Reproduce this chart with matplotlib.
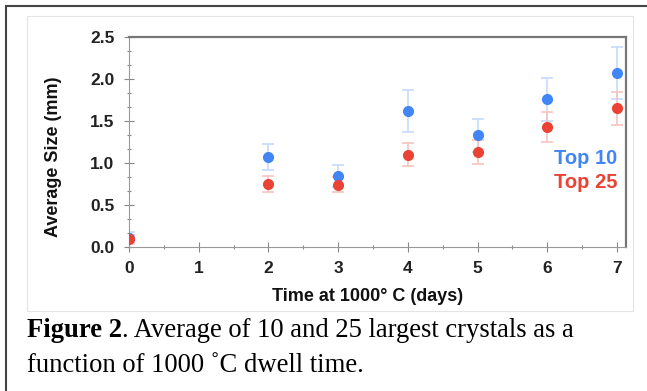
import matplotlib.pyplot as plt
from matplotlib.ticker import MultipleLocator
from matplotlib.patches import Rectangle

plt.rcParams['font.family'] = ['Liberation Sans', 'DejaVu Sans']

# data
days = [0, 2, 3, 4, 5, 6, 7]
top10 = [0.10, 1.07, 0.84, 1.62, 1.33, 1.76, 2.07]
top10_err = [0.07, 0.16, 0.13, 0.25, 0.20, 0.26, 0.31]
top25 = [0.09, 0.75, 0.74, 1.10, 1.13, 1.43, 1.65]
top25_err = [0.05, 0.10, 0.09, 0.135, 0.14, 0.18, 0.20]

BLUE = '#4285f4'
RED = '#ea4335'
W, H = 647, 391

fig = plt.figure(figsize=(W / 100, H / 100), dpi=100)
fig.patch.set_facecolor('white')

# outer document frame and light chart border
fig.add_artist(Rectangle((6 / W, -0.1), 1.2, (H - 6) / H + 0.1, transform=fig.transFigure,
                         fill=False, edgecolor='#444444', linewidth=1.5))
fig.add_artist(Rectangle((27 / W, 1 - 311 / H), (632.5 - 27) / W, (311 - 16) / H,
                         transform=fig.transFigure, fill=False, edgecolor='#e4e4e4', linewidth=0.8))

ax = fig.add_axes([129 / W, 1 - 246.7 / H, (626 - 129) / W, (246.7 - 37.3) / H])

ax.errorbar(days, top10, yerr=top10_err, fmt='none', ecolor='#c6dafc', elinewidth=1.2,
            capsize=4, capthick=1.2, zorder=2)
ax.errorbar(days, top25, yerr=top25_err, fmt='none', ecolor='#f6c4bf', elinewidth=1.2,
            capsize=4, capthick=1.2, zorder=2)
ax.plot(days, top10, 'o', color=BLUE, markersize=7, zorder=3)
ax.plot(days, top25, 'o', color=RED, markersize=7, zorder=4)

ax.set_xlim(0, 7.13)
ax.set_ylim(0, 2.5)
ax.xaxis.set_major_locator(MultipleLocator(1))
ax.xaxis.set_minor_locator(MultipleLocator(0.5))
ax.yaxis.set_major_locator(MultipleLocator(0.5))
ax.yaxis.set_minor_locator(MultipleLocator(0.5 / 3))
ax.yaxis.set_major_formatter(plt.FormatStrFormatter('%.1f'))

ax.tick_params(which='major', direction='inout', length=7, width=0.8, color='#888888',
               labelsize=12.5, pad=7)
ax.tick_params(which='minor', direction='inout', length=3.5, width=0.8, color='#888888')
for lab in ax.get_xticklabels() + ax.get_yticklabels():
    lab.set_fontweight('bold')
    lab.set_color('#222222')

for side in ['left', 'bottom']:
    ax.spines[side].set_color('#999999')
    ax.spines[side].set_linewidth(0.8)
for side in ['top', 'right']:
    ax.spines[side].set_color('#777777')
    ax.spines[side].set_linewidth(1.6)

fig.text(54 / W, 1 - 156.7 / H, 'Average Size (mm)', rotation=90, ha='center', va='center',
         fontsize=13, fontweight='bold', color='#111111')
fig.text(367.7 / W, 1 - 296.7 / H, 'Time at 1000° C (days)', ha='center', va='center',
         fontsize=13, fontweight='bold', color='#111111')

fig.text(617 / W, 1 - 158 / H, 'Top 10', ha='right', va='center', fontsize=14.5,
         fontweight='bold', color=BLUE)
fig.text(617 / W, 1 - 182.7 / H, 'Top 25', ha='right', va='center', fontsize=14.5,
         fontweight='bold', color=RED)

# caption, bold lead-in followed by normal text
cap_size = 19.2
t1 = fig.text(27 / W, 1 - 337.3 / H, 'Figure 2', ha='left', va='baseline',
              fontsize=cap_size, fontweight='bold', family='Liberation Serif')
renderer = fig.canvas.get_renderer()
bb = t1.get_window_extent(renderer=renderer)
fig.text(bb.x1 / W, 1 - 337.3 / H, '. Average of 10 and 25 largest crystals as a',
         ha='left', va='baseline', fontsize=cap_size, family='Liberation Serif')
fig.text(27 / W, 1 - 371.7 / H, 'function of 1000 ˚C dwell time.', ha='left', va='baseline',
         fontsize=cap_size, family='Liberation Serif')

plt.savefig('out.png', dpi=100)
plt.close('all')
